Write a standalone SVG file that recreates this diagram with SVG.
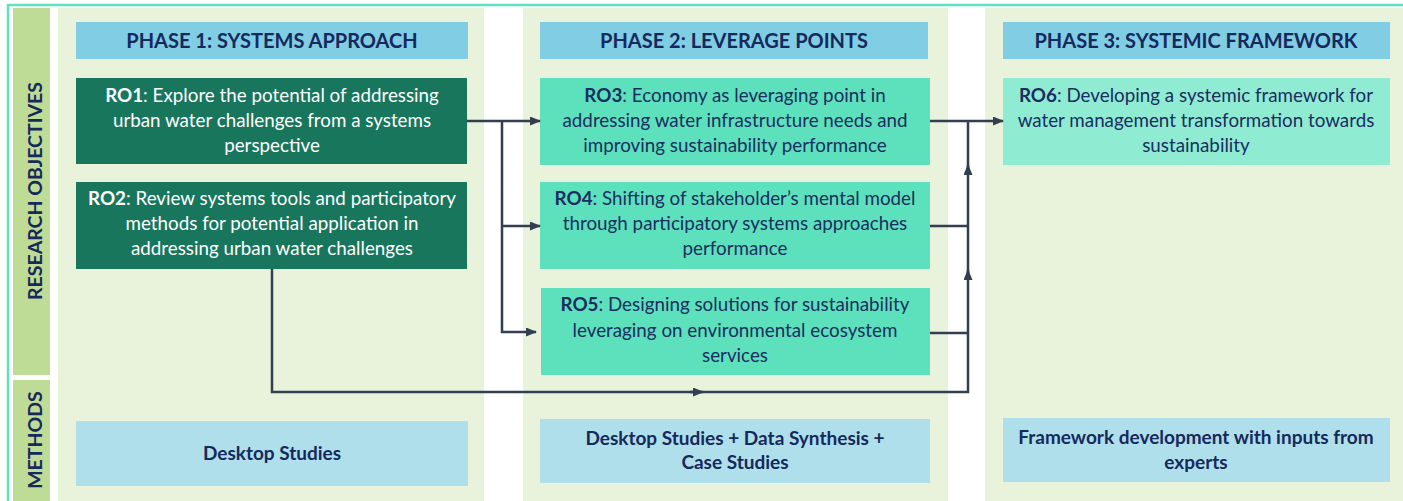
<svg xmlns="http://www.w3.org/2000/svg" width="1403" height="501" viewBox="0 0 1403 501">
  <defs>
    <marker id="arrow" markerWidth="11" markerHeight="9" refX="10" refY="4.5" orient="auto" markerUnits="userSpaceOnUse">
      <path d="M0,0 L11,4.5 L0,9 Z" fill="#333f50"/>
    </marker>
    <style>
      .frame { fill: none; stroke: #5fe3bf; stroke-width: 2.5; }
      .side { fill: #bfdc96; }
      .panel { fill: #e9f2db; }
      .head { fill: #80cde4; }
      .ro-dark { fill: #17765b; }
      .ro-mid { fill: #5ce1bc; }
      .ro-light { fill: #8fecd3; }
      .method { fill: #afdfea; }
      text { font-family: Lato, "Liberation Sans", sans-serif; text-anchor: middle; }
      .t-head { font-size: 20px; font-weight: bold; fill: #15295c; }
      .t-side { font-size: 19.5px; font-weight: bold; fill: #15295c; }
      .t-ro { font-size: 18.8px; }
      .t-white { fill: #ffffff; }
      .t-navy { fill: #1a2e60; }
      .t-method { font-size: 19px; font-weight: bold; fill: #15295c; }
      .b { font-weight: bold; }
      .conn { fill: none; stroke: #333f50; stroke-width: 2.5; }
    </style>
  </defs>

  <rect width="1403" height="501" fill="#ffffff"/>

  <!-- outer frame -->
  <path class="frame" d="M8,501 V5 H1403"/>

  <!-- side row labels -->
  <g id="label-research-objectives">
    <rect class="side" x="13" y="8" width="37" height="367"/>
    <text class="t-side" transform="translate(42,191) rotate(-90)">RESEARCH OBJECTIVES</text>
  </g>
  <g id="label-methods">
    <rect class="side" x="13" y="380" width="37" height="121"/>
    <text class="t-side" transform="translate(42,440) rotate(-90)">METHODS</text>
  </g>

  <!-- phase panels -->
  <g id="phase1">
    <rect class="panel" x="58" y="8" width="426" height="493"/>
    <rect class="head" x="76" y="22" width="392" height="37"/>
    <text class="t-head" x="272" y="48">PHASE 1: SYSTEMS APPROACH</text>
  </g>
  <g id="phase2">
    <rect class="panel" x="523" y="8" width="425" height="493"/>
    <rect class="head" x="540" y="22" width="388" height="37"/>
    <text class="t-head" x="734" y="48">PHASE 2: LEVERAGE POINTS</text>
  </g>
  <g id="phase3">
    <rect class="panel" x="985" y="8" width="418" height="493"/>
    <rect class="head" x="1003" y="22" width="387" height="37"/>
    <text class="t-head" x="1196" y="48">PHASE 3: SYSTEMIC FRAMEWORK</text>
  </g>

  <!-- research objectives -->
  <g id="ro1">
    <rect class="ro-dark" x="76" y="78" width="391" height="86"/>
    <text class="t-ro t-white" x="272" y="102"><tspan class="b">RO1</tspan>: Explore the potential of addressing</text>
    <text class="t-ro t-white" x="272" y="127">urban water challenges from a systems</text>
    <text class="t-ro t-white" x="272" y="152">perspective</text>
  </g>
  <g id="ro2">
    <rect class="ro-dark" x="76" y="182" width="391" height="87"/>
    <text class="t-ro t-white" x="272" y="205"><tspan class="b">RO2</tspan>: Review systems tools and participatory</text>
    <text class="t-ro t-white" x="272" y="230">methods for potential application in</text>
    <text class="t-ro t-white" x="272" y="255">addressing urban water challenges</text>
  </g>
  <g id="ro3">
    <rect class="ro-mid" x="540" y="78" width="390" height="87"/>
    <text class="t-ro t-navy" x="735" y="102"><tspan class="b">RO3</tspan>: Economy as leveraging point in</text>
    <text class="t-ro t-navy" x="735" y="127">addressing water infrastructure needs and</text>
    <text class="t-ro t-navy" x="735" y="152">improving sustainability performance</text>
  </g>
  <g id="ro4">
    <rect class="ro-mid" x="540" y="182" width="390" height="87"/>
    <text class="t-ro t-navy" x="735" y="205"><tspan class="b">RO4</tspan>: Shifting of stakeholder’s mental model</text>
    <text class="t-ro t-navy" x="735" y="230">through participatory systems approaches</text>
    <text class="t-ro t-navy" x="735" y="255">performance</text>
  </g>
  <g id="ro5">
    <rect class="ro-mid" x="541" y="288" width="389" height="87"/>
    <text class="t-ro t-navy" x="735" y="311"><tspan class="b">RO5</tspan>: Designing solutions for sustainability</text>
    <text class="t-ro t-navy" x="735" y="337">leveraging on environmental ecosystem</text>
    <text class="t-ro t-navy" x="735" y="362">services</text>
  </g>
  <g id="ro6">
    <rect class="ro-light" x="1003" y="78" width="387" height="87"/>
    <text class="t-ro t-navy" x="1196" y="102"><tspan class="b">RO6</tspan>: Developing a systemic framework for</text>
    <text class="t-ro t-navy" x="1196" y="127">water management transformation towards</text>
    <text class="t-ro t-navy" x="1196" y="152">sustainability</text>
  </g>

  <!-- methods -->
  <g id="method1">
    <rect class="method" x="76" y="421" width="392" height="65"/>
    <text class="t-method" x="272" y="460">Desktop Studies</text>
  </g>
  <g id="method2">
    <rect class="method" x="540" y="419" width="390" height="64"/>
    <text class="t-method" x="735" y="445">Desktop Studies + Data Synthesis +</text>
    <text class="t-method" x="735" y="469">Case Studies</text>
  </g>
  <g id="method3">
    <rect class="method" x="1003" y="418" width="387" height="64"/>
    <text class="t-method" x="1196" y="444">Framework development with inputs from</text>
    <text class="t-method" x="1196" y="469">experts</text>
  </g>

  <!-- connectors -->
  <g id="connectors">
    <path class="conn" d="M467,121 H540" marker-end="url(#arrow)"/>
    <path class="conn" d="M502,121 V332 H536" marker-end="url(#arrow)"/>
    <path class="conn" d="M502,226 H540" marker-end="url(#arrow)"/>
    <path class="conn" d="M930,121 H1003" marker-end="url(#arrow)"/>
    <path class="conn" d="M930,226 H968"/>
    <path class="conn" d="M930,333 H968"/>
    <path class="conn" d="M272,269 V392 H968 V121"/>
    <path class="conn" d="M690,392 H703" marker-end="url(#arrow)"/>
    <path class="conn" d="M968,280 V270" marker-end="url(#arrow)"/>
    <path class="conn" d="M968,175 V165" marker-end="url(#arrow)"/>
  </g>
</svg>
